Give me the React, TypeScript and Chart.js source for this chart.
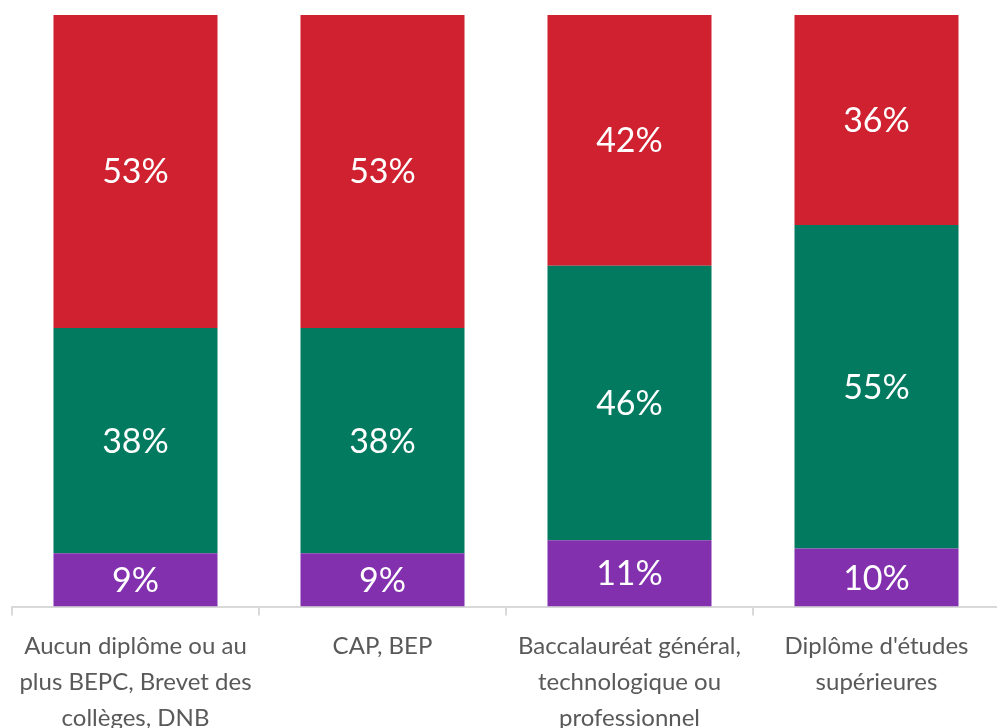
import React, { useEffect, useRef } from "react";
import { Chart, registerables } from "chart.js";

Chart.register(...registerables);

const categories: string[][] = [
  ["Aucun diplôme ou au", "plus BEPC, Brevet des", "collèges, DNB"],
  ["CAP, BEP"],
  ["Baccalauréat général,", "technologique ou", "professionnel"],
  ["Diplôme d'études", "supérieures"],
];
const purpleValues = [9.0, 9.0, 11.2, 9.8];
const greenValues = [38.1, 38.1, 46.4, 54.7];
const redValues = [52.9, 52.9, 42.4, 35.5];

const FONT = "Lato, 'Open Sans', sans-serif";

const labelPlugin = {
  id: "segLabels",
  afterDatasetsDraw(chart: any) {
    const ctx = chart.ctx;
    ctx.save();
    ctx.fillStyle = "#ffffff";
    ctx.font = `34px ${FONT}`;
    ctx.textAlign = "center";
    ctx.textBaseline = "middle";
    chart.data.datasets.forEach((ds: any, di: number) => {
      const meta = chart.getDatasetMeta(di);
      meta.data.forEach((el: any, i: number) => {
        const v = ds.data[i];
        const y = (el.y + el.base) / 2;
        ctx.fillText(Math.round(v) + "%", el.x, y + 1);
      });
    });
    ctx.restore();
  },
};

export default function App() {
  const ref = useRef<HTMLCanvasElement>(null);
  useEffect(() => {
    const chart = new Chart(ref.current!, {
      type: "bar",
      data: {
        labels: categories,
        datasets: [
          { label: "A", data: purpleValues, backgroundColor: "#8230AE" },
          { label: "B", data: greenValues, backgroundColor: "#017A5F" },
          { label: "C", data: redValues, backgroundColor: "#CF212F" },
        ],
      },
      options: {
        animation: false,
        responsive: false,
        maintainAspectRatio: false,
        layout: { padding: { left: 12, right: 0, top: 15, bottom: 0 } },
        plugins: { legend: { display: false }, tooltip: { enabled: false } },
        datasets: { bar: { categoryPercentage: 1, barPercentage: 0.664 } },
        scales: {
          x: {
            stacked: true,
            offset: true,
            grid: {
              offset: true,
              drawOnChartArea: false,
              tickLength: 9,
              color: "#d9d9d9",
              lineWidth: 2,
            },
            border: { color: "#d9d9d9", width: 2 },
            ticks: {
              color: "#595959",
              font: { family: FONT, size: 24, lineHeight: 1.52 },
              padding: 12,
              maxRotation: 0,
              autoSkip: false,
            },
          },
          y: {
            stacked: true,
            display: false,
            min: 0,
            max: 100,
          },
        },
      },
      plugins: [labelPlugin],
    });
    return () => chart.destroy();
  }, []);
  return (
    <div style={{ position: "fixed", left: 0, top: 0, width: 997, height: 728, overflow: "hidden", background: "#fff" }}>
      <canvas ref={ref} width={1000} height={749} style={{ display: "block" }} />
    </div>
  );
}
